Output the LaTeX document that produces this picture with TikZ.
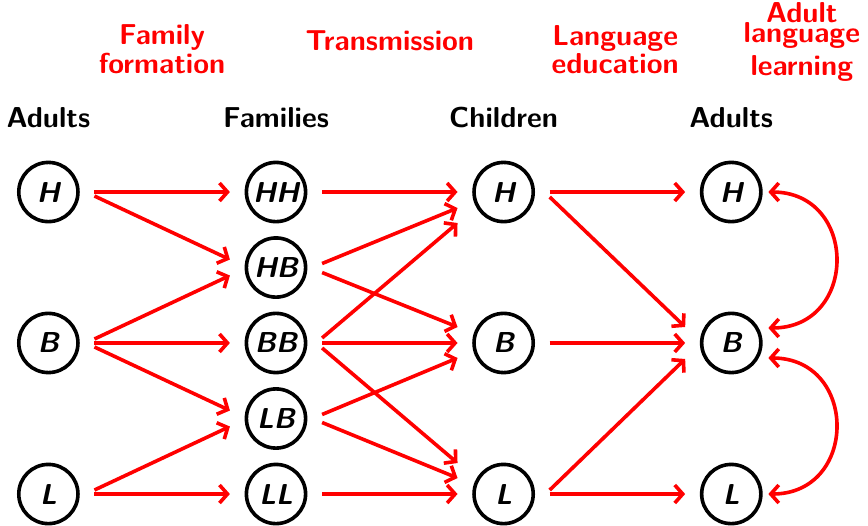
\documentclass[tikz,border=0pt]{standalone}
\usepackage{amsmath,amssymb}
\usepackage{tikz}
\usetikzlibrary{arrows.meta}

\begin{document}
\begin{tikzpicture}[
  lang/.style={circle,draw,line width=1.8pt,minimum size=1.04cm,inner sep=0pt,outer sep=0.29cm,font=\sffamily\bfseries\slshape\Large},
  head/.style={anchor=base,font=\sffamily\bfseries\Large},
  stage/.style={anchor=base,align=center,text=red,font=\fontsize{14.4}{11.8}\selectfont\sffamily\bfseries},
  flow/.style={red,line width=1.8pt,-{Straight Barb[length=4pt,width=9pt]}},
  learn/.style={red,line width=1.8pt,{Straight Barb[length=4pt,width=9pt]}-{Straight Barb[length=4pt,width=9pt]}}
]
\useasboundingbox (0,0) rectangle (15.253,-9.243);

\node[stage] (s1) at (2.847,-1.283) {Family\\formation};
\node[stage] (s2) at (6.85,-0.879) {Transmission};
\node[stage] (s3) at (10.81,-1.283) {Language\\education};
\node[stage] (s4) at (14.09,-1.318) {Adult\\[-1.7pt]language\\[2.3pt]learning};

\foreach \x/\n/\t in {0.85/1/Adults,4.85/2/Families,8.85/3/Children,12.85/4/Adults}
  \node[head] (t\n) at (\x,-2.232) {\t};

\node[lang] (h1) at (0.85,-3.374) {H};
\node[lang] (b1) at (0.85,-6.027) {B};
\node[lang] (l1) at (0.85,-8.681) {L};
\node[lang] (hh) at (4.85,-3.374) {HH};
\node[lang] (hb) at (4.85,-4.701) {HB};
\node[lang] (bb) at (4.85,-6.027) {BB};
\node[lang] (lb) at (4.85,-7.354) {LB};
\node[lang] (ll) at (4.85,-8.681) {LL};
\foreach \c/\x in {3/8.85,4/12.85}{
  \node[lang] (h\c) at (\x,-3.374) {H};
  \node[lang] (b\c) at (\x,-6.027) {B};
  \node[lang] (l\c) at (\x,-8.681) {L};
}

\draw[flow] (h1.east) -- (hh.west);
\draw[flow] ([yshift=-2pt]h1.east) -- ([yshift=4pt]hb.west);
\draw[flow] ([yshift=2pt]b1.east) -- ([yshift=-4pt]hb.west);
\draw[flow] (b1.east) -- (bb.west);
\draw[flow] ([yshift=-2pt]b1.east) -- ([yshift=4pt]lb.west);
\draw[flow] ([yshift=2pt]l1.east) -- ([yshift=-4pt]lb.west);
\draw[flow] (l1.east) -- (ll.west);

\draw[flow] (hh.east) -- (h3.west);
\draw[flow] ([yshift=2pt]hb.east) -- ([yshift=-8pt]h3.west);
\draw[flow] ([yshift=-2.5pt]hb.east) -- ([yshift=8pt]b3.west);
\draw[flow] ([yshift=2.5pt]bb.east) -- ([yshift=-15.5pt]h3.west);
\draw[flow] (bb.east) -- (b3.west);
\draw[flow] ([yshift=-2.5pt]bb.east) -- ([yshift=15.5pt]l3.west);
\draw[flow] ([yshift=2pt]lb.east) -- ([yshift=-7.5pt]b3.west);
\draw[flow] ([yshift=-2pt]lb.east) -- ([yshift=8pt]l3.west);
\draw[flow] (ll.east) -- (l3.west);

\draw[flow] (h3.east) -- (h4.west);
\draw[flow] ([yshift=-2.5pt]h3.east) -- ([yshift=8pt]b4.west);
\draw[flow] (b3.east) -- (b4.west);
\draw[flow] ([yshift=2pt]l3.east) -- ([yshift=-8pt]b4.west);
\draw[flow] (l3.east) -- (l4.west);

\draw[learn] ([xshift=-4.5pt]h4.east) to[out=0,in=0,looseness=1.7] ([xshift=-4.5pt,yshift=7.5pt]b4.east);
\draw[learn] ([xshift=-4.5pt,yshift=-7.5pt]b4.east) to[out=0,in=0,looseness=1.7] ([xshift=-4.5pt]l4.east);
\end{tikzpicture}
\end{document}
